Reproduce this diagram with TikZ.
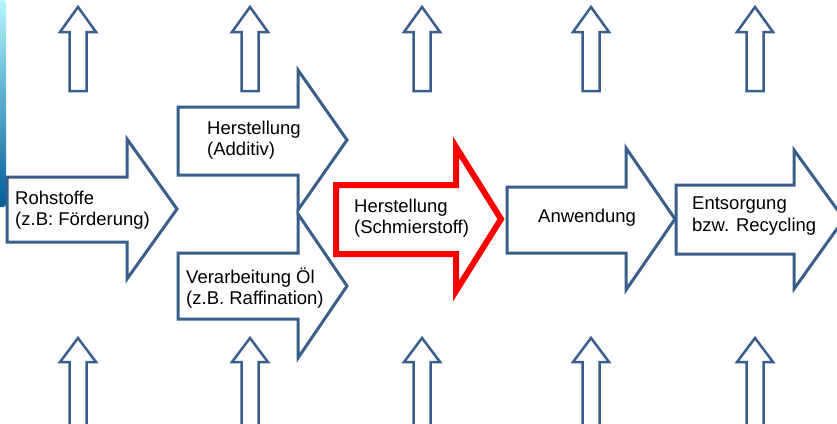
\documentclass[tikz,border=0pt]{standalone}
\usepackage{fontspec}
\setmainfont{Liberation Sans}
\usepackage{xcolor}
\usepackage{tikz}
\usetikzlibrary{positioning}
\definecolor{arrowblue}{HTML}{3A5E8C}
\definecolor{focusred}{HTML}{FF0000}
\tikzstyle{flowarrow} = [draw=arrowblue, line width=3, fill=white, line join=miter]
\tikzstyle{focusarrow} = [draw=focusred, line width=6, fill=white, line join=miter]
\tikzstyle{uparrow} = [draw=arrowblue, line width=2.5, fill=white, line join=miter]
\tikzstyle{steptext} = [anchor=west, align=left, inner sep=0pt, font=\fontsize{18.5}{21.5}\selectfont]

\begin{document}
\begin{tikzpicture}[x=1pt, y=-1pt]
    \clip (0,0) rectangle (837,423);
    \fill[white] (0,0) rectangle (837,423);
    % water strip at the left edge
    \shade[top color=blue!10!cyan!30, bottom color=blue!40!cyan!60!black, rounded corners=3] (-5,0) rectangle (6,207);

    % small arrows above and below
    \foreach \x in {78,250,422,591,755} {
        \draw[uparrow] (\x,7) -- (\x+18,32) -- (\x+8.5,32) -- (\x+8.5,91) -- (\x-8.5,91) -- (\x-8.5,32) -- (\x-18,32) -- cycle;
        \draw[uparrow] (\x,338) -- (\x+18,362) -- (\x+8.5,362) -- (\x+8.5,432) -- (\x-8.5,432) -- (\x-8.5,362) -- (\x-18,362) -- cycle;
    }

    % process chain
    \draw[flowarrow] (7,177) -- (127,177) -- (127,139) -- (177,209) -- (127,279) -- (127,242) -- (7,242) -- cycle;
    \draw[flowarrow] (178,107) -- (298,107) -- (298,70) -- (347,140) -- (298,210) -- (298,175) -- (178,175) -- cycle;
    \draw[flowarrow] (178,253) -- (298,253) -- (298,214) -- (347,286) -- (298,358) -- (298,319) -- (178,319) -- cycle;
    \draw[focusarrow] (336,185) -- (456,185) -- (456,147) -- (501,219) -- (456,291) -- (456,254) -- (336,254) -- cycle;
    \draw[flowarrow] (507,187) -- (626,187) -- (626,148) -- (675,219) -- (626,290) -- (626,253) -- (507,253) -- cycle;
    \draw[flowarrow] (676,185) -- (794,185) -- (794,150) -- (844,219) -- (794,289) -- (794,254) -- (676,254) -- cycle;

    \node[steptext] (rohstoffe) at (15,210) {Rohstoffe\\(z.B: Förderung)};
    \node[steptext] (additiv) at (207,140) {Herstellung\\(Additiv)};
    \node[steptext] (oel) at (186,288) {Verarbeitung Öl\\(z.B. Raffination)};
    \node[steptext] (schmierstoff) at (354,218) {Herstellung\\(Schmierstoff)};
    \node[steptext] (anwendung) at (538,218) {Anwendung};
    \node[steptext] (entsorgung) at (692,216) {Entsorgung\\bzw. Recycling};
\end{tikzpicture}
\end{document}
